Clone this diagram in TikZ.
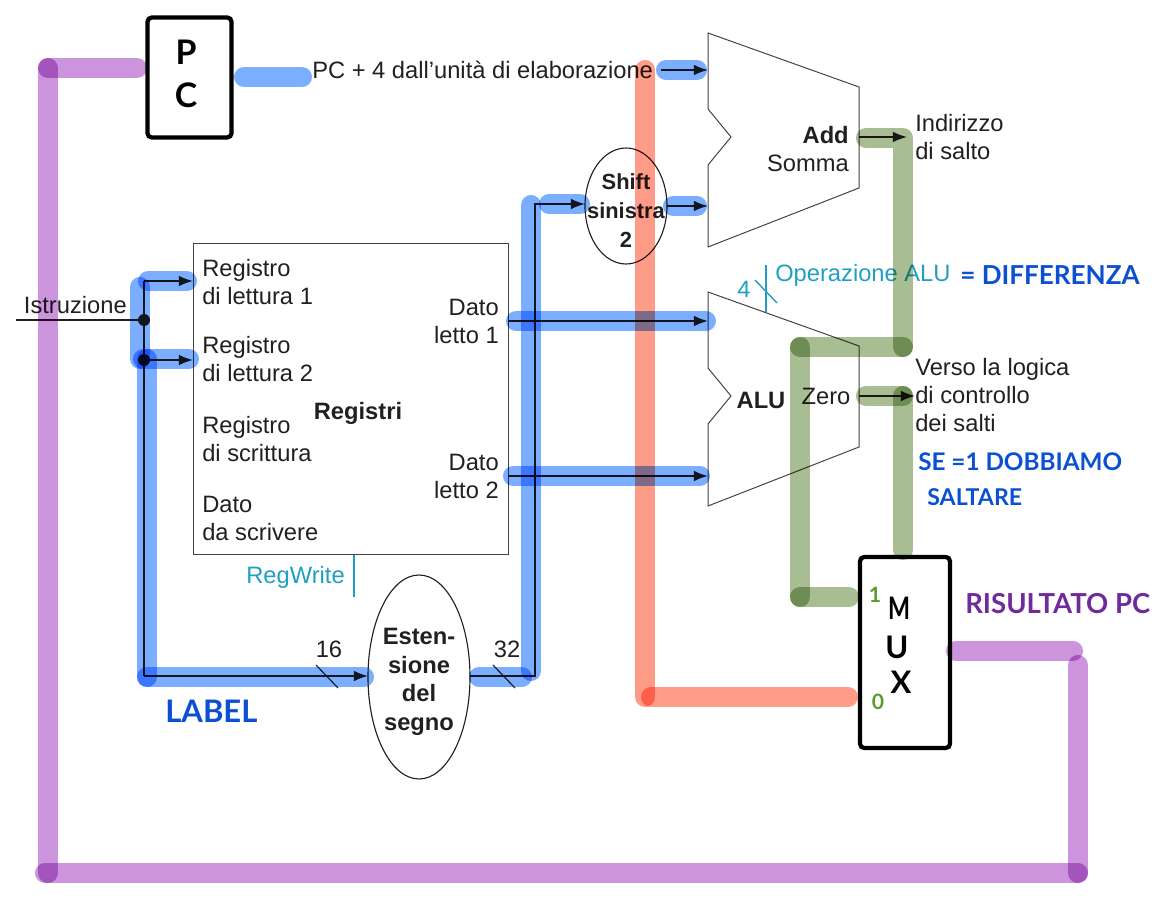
\documentclass[tikz,border=0pt]{standalone}
\usepackage{fontspec}
\setmainfont{Liberation Sans}
\newfontfamily\handfont{Lato}
\usetikzlibrary{shapes.geometric,arrows.meta}

% one pixel of the sketch
\newlength{\px}
\setlength{\px}{0.7087pt}

\definecolor{inkcol}{HTML}{231F20}
\definecolor{ctrlcol}{HTML}{1E9FC4}
\definecolor{bluepen}{HTML}{7CAEFF}
\definecolor{redpen}{HTML}{FF9C88}
\definecolor{greenpen}{HTML}{A8BD92}
\definecolor{purplepen}{HTML}{CC94DC}
\definecolor{bluehand}{HTML}{0B50D2}
\definecolor{purplehand}{HTML}{6F2A9C}
\definecolor{greenhand}{HTML}{5F9A2E}

\tikzset{
  txt/.style={font=\fontsize{16.8}{19.8}\selectfont, text=inkcol, inner sep=0pt},
  txtleft/.style={txt, align=left, anchor=west},
  txtright/.style={txt, align=right, anchor=east},
  txtbold/.style={txt, align=center, font=\fontsize{16.8}{20.3}\selectfont\bfseries},
  ctrltxt/.style={txt, text=ctrlcol},
  wire/.style={draw=inkcol, line width=1.2pt},
  arrowwire/.style={wire, -{Latex[length=10pt,width=7.5pt]}},
  ctrlwire/.style={draw=ctrlcol, line width=1pt},
  unit/.style={draw=inkcol!85, line width=0.7pt, line join=miter},
  ovalunit/.style={ellipse, draw=inkcol, line width=0.8pt, inner sep=0pt},
  handbox/.style={draw=black, line width=3pt, rounded corners=3pt, inner sep=0pt},
  dot/.style={circle, fill=inkcol, inner sep=0pt, minimum size=12\px},
  pen/.style={line width=14.2pt, line cap=round, line join=round, blend mode=multiply},
  hand/.style={font=\handfont\bfseries, inner sep=0pt},
}

\begin{document}
\begin{tikzpicture}[x=1\px, y=-1\px]
\useasboundingbox (0,0) rectangle (1159,915);

% Registers and the other units
\node (regs) [unit, draw, minimum width=315\px, minimum height=311\px, inner sep=0pt] at (350.5,398.5) {};
\node (shift) [ovalunit, minimum width=82\px, minimum height=116\px] at (626,206) {};
\node (ext) [ovalunit, minimum width=102\px, minimum height=204\px] at (419,677) {};
\node (pc) [handbox, minimum width=84\px, minimum height=120\px] at (189.5,77.5) {};
\node (mux) [handbox, minimum width=90\px, minimum height=191\px] at (905,652.5) {};

% Add
\draw [unit] (708,33) -- (859,87) -- (859,188) -- (708,247) -- (708,165) -- (731,137) -- (708,109) -- cycle;
% ALU
\draw [unit] (708,292) -- (859,346) -- (859,447) -- (708,506) -- (708,424) -- (731,396) -- (708,368) -- cycle;

% Points on the wires
\coordinate (instr) at (16,320);
\coordinate (jtop) at (144,281);
\coordinate (jbot) at (144,676);
\coordinate (rd1) at (193,281);
\coordinate (rd2) at (193,360);
\coordinate (extin) at (368,676);
\coordinate (extout) at (470,676);
\coordinate (up) at (535,676);
\coordinate (uptop) at (535,204);
\coordinate (shiftin) at (585,204);
\coordinate (shiftout) at (667,206);
\coordinate (addin2) at (708,206);
\coordinate (pcin) at (661,70);
\coordinate (addin1) at (708,70);
\coordinate (dato1) at (508,321);
\coordinate (alu1) at (708,321);
\coordinate (dato2) at (508,476);
\coordinate (alu2) at (708,476);
\coordinate (addout) at (859,137);
\coordinate (salto) at (907,137);
\coordinate (zeroout) at (859,396);
\coordinate (zeroend) at (915,396);

% Black wires
\node (j1) [dot] at (144,320) {};
\node (j2) [dot] at (144,360) {};
\draw [wire] (instr) -- (j1);
\draw [wire] (jtop) -- (jbot);
\draw [arrowwire] (jtop) -- (rd1);
\draw [arrowwire] (j2) -- (rd2);
\draw [arrowwire] (jbot) -- (extin);
\draw [arrowwire] (extout) -- (up) -- (uptop) -- (shiftin);
\draw [arrowwire] (shiftout) -- (addin2);
\draw [arrowwire] (pcin) -- (addin1);
\draw [arrowwire] (dato1) -- (alu1);
\draw [arrowwire] (dato2) -- (alu2);
\draw [arrowwire] (addout) -- (salto);
\draw [arrowwire] (zeroout) -- (zeroend);

% Bus ticks
\coordinate (t16a) at (316,665);
\coordinate (t16b) at (338,688);
\coordinate (t32a) at (493,665);
\coordinate (t32b) at (515,688);
\draw [wire, line width=0.8pt] (t16a) -- (t16b);
\draw [wire, line width=0.8pt] (t32a) -- (t32b);

% Control wires
\coordinate (rwa) at (354,555);
\coordinate (rwb) at (354,597);
\coordinate (opa) at (766,265);
\coordinate (opb) at (766,312);
\coordinate (opc) at (755,280);
\coordinate (opd) at (777,303);
\draw [ctrlwire] (rwa) -- (rwb);
\draw [ctrlwire] (opa) -- (opb);
\draw [ctrlwire] (opc) -- (opd);

% Printed labels
\node (istr) [txt, anchor=east] at (127,305) {Istruzione};
\node (pc4) [txt, anchor=west] at (312,70) {PC + 4 dall’unità di elaborazione};
\node (rl1) [txtleft] at (202,282) {Registro\\di lettura 1};
\node (rl2) [txtleft] at (202,359) {Registro\\di lettura 2};
\node (rs) [txtleft] at (202,439) {Registro\\di scrittura};
\node (dsc) [txtleft] at (202,518) {Dato\\da scrivere};
\node (regname) [txtbold] at (358,413) {Registri};
\node (dl1) [txtright] at (499,321) {Dato\\letto 1};
\node (dl2) [txtright] at (499,476) {Dato\\letto 2};
\node (shiftname) [txtbold, font=\fontsize{15.5}{20.5}\selectfont\bfseries] at (626,211) {Shift\\sinistra\\2};
\node (extname) [txtbold] at (419,682) {Esten-\\sione\\del\\segno};
\node (addname) [txtbold, anchor=east] at (849,135) {Add};
\node (somma) [txt, anchor=east] at (849,163) {Somma};
\node (aluname) [txtbold] at (761,400) {ALU};
\node (zero) [txt] at (826,396) {Zero};
\node (indir) [txtleft] at (915,137) {Indirizzo\\di salto};
\node (verso) [txtleft] at (915,395) {Verso la logica\\di controllo\\dei salti};
\node (n16) [txt] at (329,649) {16};
\node (n32) [txt] at (507,649) {32};
\node (regw) [ctrltxt, anchor=east] at (345,577) {RegWrite};
\node (opalu) [ctrltxt, anchor=west] at (775,275) {Operazione ALU};
\node (n4) [ctrltxt] at (744,289) {4};

% Hand written notes
\node (handp) [hand, font=\handfont\bfseries\fontsize{24}{24}\selectfont] at (186,52) {P};
\node (handc) [hand, font=\handfont\bfseries\fontsize{24}{24}\selectfont] at (186,95) {C};
\node (handm) [hand, font=\handfont\bfseries\fontsize{22}{22}\selectfont] at (899,608) {\scalebox{0.75}[1]{M}};
\node (handu) [hand, font=\handfont\bfseries\fontsize{22}{22}\selectfont] at (897,647) {U};
\node (handx) [hand, font=\handfont\bfseries\fontsize{22}{22}\selectfont] at (901,682) {X};
\node (handone) [hand, text=greenhand, font=\handfont\bfseries\fontsize{15}{15}\selectfont] at (875,595) {1};
\node (handzero) [hand, text=greenhand, font=\handfont\bfseries\fontsize{15}{15}\selectfont] at (878,702) {0};
\node (diff) [hand, text=bluehand, anchor=west, font=\handfont\bfseries\fontsize{18.5}{19}\selectfont] at (960,275) {= DIFFERENZA};
\node (label) [hand, text=bluehand, anchor=west, font=\handfont\bfseries\fontsize{22}{22}\selectfont] at (165,711) {LABEL};
\node (se) [hand, text=bluehand, anchor=west, font=\handfont\bfseries\fontsize{17.2}{17}\selectfont] at (918,462) {SE =1 DOBBIAMO};
\node (saltare) [hand, text=bluehand, anchor=west, font=\handfont\bfseries\fontsize{16.4}{17}\selectfont] at (927,497) {SALTARE};
\node (risult) [hand, text=purplehand, anchor=west, font=\handfont\bfseries\fontsize{19.5}{19}\selectfont] at (965,604) {RISULTATO PC};

% Highlighter: blue
\coordinate (ba) at (140,287);
\coordinate (bb) at (140,359);
\coordinate (bc) at (148,281);
\coordinate (bd) at (187,281);
\coordinate (be) at (143,359);
\coordinate (bf) at (189,359);
\coordinate (bg) at (147,359);
\coordinate (bh) at (147,677);
\coordinate (bi) at (364,677);
\coordinate (bj) at (479,677);
\coordinate (bk) at (522,677);
\coordinate (bl) at (531,671);
\coordinate (bm) at (531,205);
\coordinate (bn) at (549,204);
\coordinate (bo) at (580,204);
\coordinate (bp) at (673,206);
\coordinate (bq) at (697,206);
\coordinate (br) at (666,70);
\coordinate (bs) at (697,70);
\coordinate (bt) at (244,77);
\coordinate (bu) at (302,77);
\coordinate (bv) at (516,321);
\coordinate (bw) at (706,321);
\coordinate (bx) at (513,476);
\coordinate (by) at (700,476);
\foreach \a/\b in {ba/bb, bc/bd, be/bf, bg/bh, bh/bi, bj/bk, bl/bm, bn/bo, bp/bq, br/bs, bt/bu, bv/bw, bx/by}
  \draw [pen, draw=bluepen] (\a) -- (\b);

% Highlighter: red
\coordinate (ra) at (645,70);
\coordinate (rb) at (645,697);
\coordinate (rc) at (651,697);
\coordinate (rd) at (848,697);
\draw [pen, draw=redpen] (ra) -- (rb);
\draw [pen, draw=redpen] (rc) -- (rd);

% Highlighter: green
\coordinate (ga) at (866,138);
\coordinate (gb) at (903,138);
\coordinate (gc) at (903,347);
\coordinate (gd) at (800,347);
\coordinate (ge) at (800,597);
\coordinate (gf) at (849,597);
\coordinate (gg) at (866,396);
\coordinate (gh) at (903,396);
\coordinate (gi) at (903,550);
\draw [pen, draw=greenpen] (ga) -- (gb) -- (gc);
\draw [pen, draw=greenpen] (gc) -- (gd);
\draw [pen, draw=greenpen] (gd) -- (ge);
\draw [pen, draw=greenpen] (ge) -- (gf);
\draw [pen, draw=greenpen] (gg) -- (gh);
\draw [pen, draw=greenpen] (gh) -- (gi);

% Highlighter: purple
\coordinate (pa) at (137,68);
\coordinate (pb) at (48,68);
\coordinate (pc1) at (48,873);
\coordinate (pd) at (45,873);
\coordinate (pe) at (1078,873);
\coordinate (pf) at (1078,665);
\coordinate (pg) at (1073,651);
\coordinate (ph) at (956,651);
\draw [pen, draw=purplepen] (pa) -- (pb);
\draw [pen, draw=purplepen] (pb) -- (pc1);
\draw [pen, draw=purplepen] (pd) -- (pe);
\draw [pen, draw=purplepen] (pe) -- (pf);
\draw [pen, draw=purplepen] (pg) -- (ph);

\end{tikzpicture}
\end{document}
